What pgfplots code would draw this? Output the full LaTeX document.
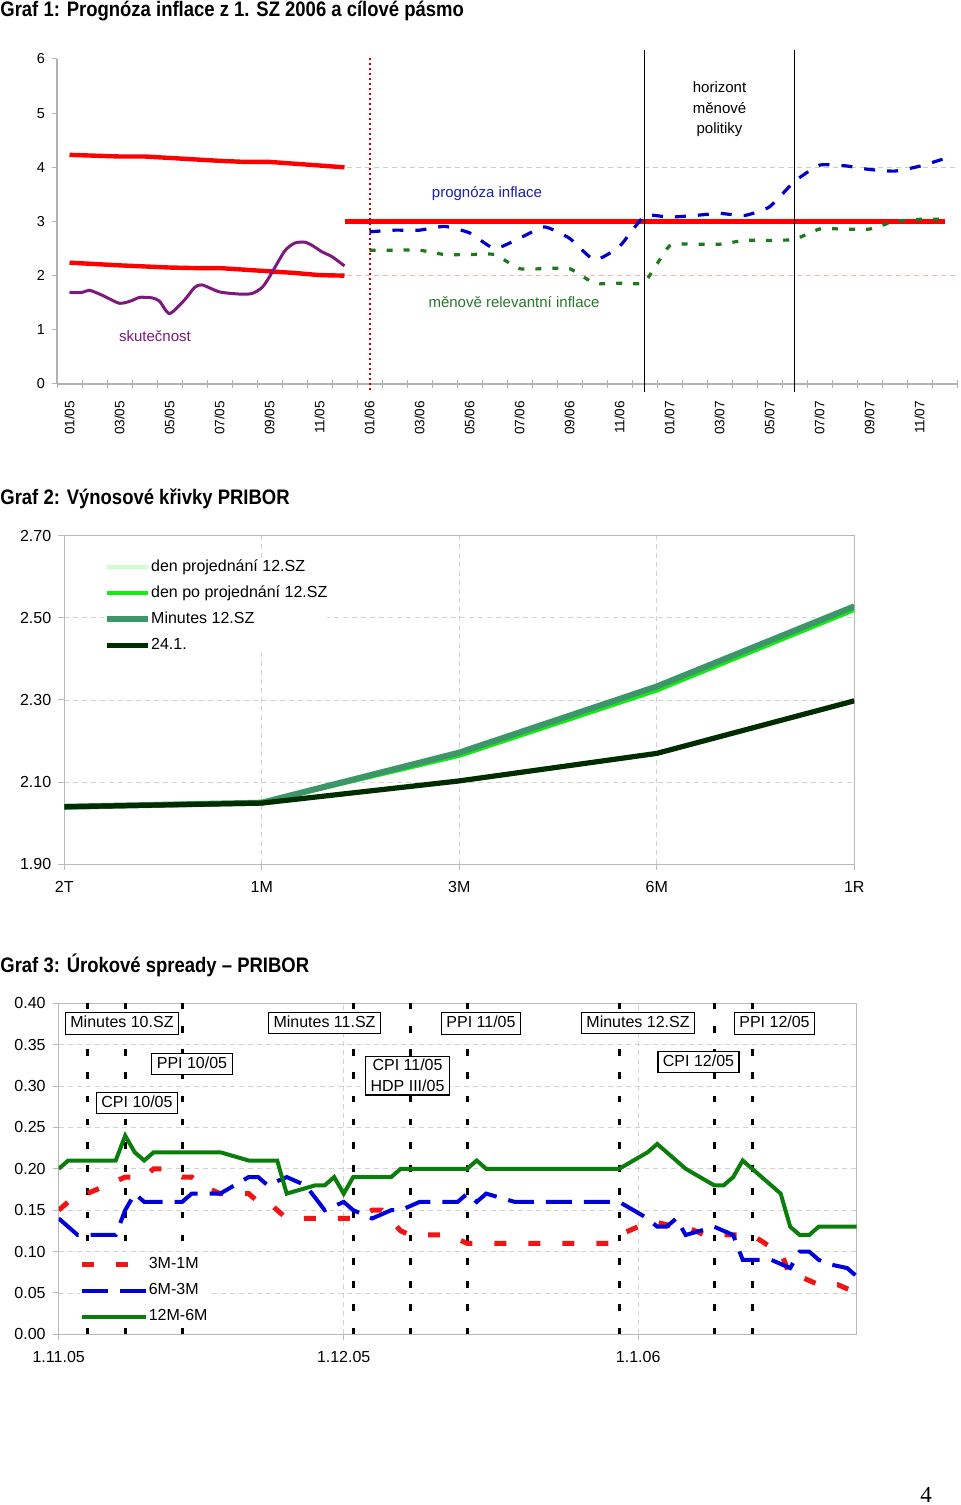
\documentclass[border=0pt]{standalone}
\usepackage{fontspec}
\setmainfont{Liberation Sans}
\newfontfamily\titlefont[FakeStretch=0.88]{Liberation Sans}
\newfontfamily\pagefont{Liberation Serif}
\usepackage{pgfplots}
\pgfplotsset{compat=1.18}
\definecolor{cRed}{RGB}{255,0,0}
\definecolor{cPurple}{RGB}{125,25,125}
\definecolor{cBlue}{RGB}{0,0,200}
\definecolor{cGreenD}{RGB}{30,120,30}
\definecolor{cBlueT}{RGB}{30,30,170}
\definecolor{cGreenT}{RGB}{40,120,40}
\definecolor{cLight}{RGB}{204,255,204}
\definecolor{cBright}{RGB}{20,235,20}
\definecolor{cMin}{RGB}{60,150,105}
\definecolor{cDark}{RGB}{0,45,0}
\definecolor{cG3}{RGB}{10,125,10}
\definecolor{cB3}{RGB}{0,0,220}
\definecolor{cR3}{RGB}{240,20,20}
\pgfplotsset{every axis/.append style={/pgf/number format/assume math mode=true}}
\begin{document}
\begin{tikzpicture}
\path[use as bounding box, fill=white] (0,0) rectangle (480pt,752.5pt);
% titles
\node[anchor=base west, inner sep=0pt, font=\titlefont\bfseries\fontsize{10.5}{12}\selectfont] at (0pt,744.2pt) {Graf 1: Prognóza inflace z 1. SZ 2006 a cílové pásmo};
\node[anchor=base west, inner sep=0pt, font=\titlefont\bfseries\fontsize{10.5}{12}\selectfont] at (0pt,500.3pt) {Graf 2: Výnosové křivky PRIBOR};
\node[anchor=base west, inner sep=0pt, font=\titlefont\bfseries\fontsize{10.5}{12}\selectfont] at (0pt,266.3pt) {Graf 3: Úrokové spready – PRIBOR};
\node[anchor=base, inner sep=0pt, font=\pagefont\fontsize{11.5}{13}\selectfont] at (463pt,1.5pt) {4};

%%%%%%%%%%%%%%%% GRAF 1
\begin{axis}[
  at={(28.5pt,560.5pt)}, anchor=south west, scale only axis,
  width=450pt, height=162.5pt,
  xmin=-0.5, xmax=35.5, ymin=0, ymax=6,
  clip=false,
  axis x line*=bottom, axis y line*=left,
  axis line style={draw=gray!60, line width=0.6pt, -},
  xtick={0,2,...,34},
  xticklabels={01/05,03/05,05/05,07/05,09/05,11/05,01/06,03/06,05/06,07/06,09/06,11/06,01/07,03/07,05/07,07/07,09/07,11/07},
  major x tick style={draw=none},
  minor xtick={-0.5,0.5,...,35.5},
  minor x tick style={draw=gray!60, line width=0.5pt},
  minor tick length=4pt,
  xtick align=center,
  ytick={0,1,2,3,4,5,6},
  ytick align=outside,
  major tick length=2.5pt,
  major y tick style={draw=gray!60, line width=0.5pt},
  xticklabel style={rotate=90, anchor=east, font=\fontsize{6.8}{8}\selectfont, inner sep=0pt},
  xticklabel shift=7pt,
  yticklabel style={font=\fontsize{7.2}{8}\selectfont},
]
% band grid lines
\addplot[gray!40, line width=0.5pt, dash pattern=on 2.5pt off 2pt] coordinates {(11.1,4)(35.5,4)};
\addplot[red!30, line width=0.5pt, dash pattern=on 2.5pt off 2pt] coordinates {(11.1,2)(35.5,2)};
% target band
\addplot[cRed, line width=2.2pt] coordinates {(0,4.23)(2,4.20)(3,4.20)(6,4.12)(7,4.10)(8,4.10)(11,4.0)};
\addplot[cRed, line width=2.2pt] coordinates {(0,2.24)(2,2.19)(4,2.15)(5,2.14)(6,2.14)(9,2.05)(10,2.01)(11,2.0)};
\addplot[cRed, line width=2.2pt] coordinates {(11,3.0)(35,3.0)};
% actual
\addplot[cPurple, line width=1.5pt, smooth, tension=0.4] coordinates {
(0,1.69)(0.5,1.69)(0.8,1.73)(1.3,1.64)(2,1.49)(2.5,1.54)(2.8,1.60)(3.3,1.59)(3.6,1.53)(4,1.30)
(4.6,1.55)(5.0,1.78)(5.3,1.83)(6,1.70)(6.8,1.66)(7.3,1.67)(7.7,1.78)(8,1.98)(8.6,2.45)(9,2.60)(9.4,2.62)(9.7,2.56)(10.1,2.44)(10.5,2.35)(11,2.18)};
% forecast
\addplot[cBlue, line width=1.6pt, dash pattern=on 5.5pt off 6pt, smooth, tension=0.3] coordinates {
(12,2.81)(13,2.84)(14,2.84)(15,2.91)(16,2.79)(17,2.50)(18,2.69)(19,2.90)(20,2.69)(21,2.29)(22,2.54)(23,3.10)
(24,3.08)(25,3.11)(26,3.15)(27,3.11)(28,3.27)(29,3.74)(30,4.04)(31,4.03)(32,3.96)(33,3.93)(34,4.02)(35,4.16)};
\addplot[cGreenD, line width=1.6pt, dash pattern=on 3pt off 5.5pt, smooth, tension=0.3] coordinates {
(12,2.47)(13,2.47)(14,2.47)(15,2.39)(16,2.39)(17,2.39)(18,2.13)(19,2.13)(20,2.13)(21,1.86)(22,1.86)(23,1.88)
(24,2.55)(25,2.58)(26,2.58)(27,2.65)(28,2.65)(29,2.67)(30,2.86)(31,2.86)(32,2.86)(33,3.0)(34,3.04)(35,3.04)};
% vertical lines
\addplot[red!75!black, line width=0.8pt, dash pattern=on 1pt off 1.5pt] coordinates {(12.02,-0.11)(12.02,6.07)};
\addplot[black, line width=0.9pt] coordinates {(23,-0.15)(23,6.17)};
\addplot[black, line width=0.9pt] coordinates {(29,-0.15)(29,6.17)};
% labels
\node[font=\fontsize{7.5}{9}\selectfont, text=cBlueT] at (axis cs:16.7,3.51) {prognóza inflace};
\node[font=\fontsize{7.5}{9}\selectfont, text=cGreenT] at (axis cs:17.78,1.51) {měnově relevantní inflace};
\node[font=\fontsize{7.5}{9}\selectfont, text=cPurple] at (axis cs:3.42,0.89) {skutečnost};
\node[align=center, font=\fontsize{7.5}{10.25}\selectfont] at (axis cs:26,5.07) {horizont\\měnové\\politiky};
\end{axis}

%%%%%%%%%%%%%%%% GRAF 2
\begin{axis}[
  at={(32.15pt,320.35pt)}, anchor=south west, scale only axis,
  width=395pt, height=164.3pt,
  xmin=0, xmax=4, ymin=1.9, ymax=2.7,
  xtick={0,1,2,3,4}, xticklabels={2T,1M,3M,6M,1R},
  ytick={1.9,2.1,2.3,2.5,2.7},
  scaled y ticks=false,
  yticklabel style={/pgf/number format/fixed, /pgf/number format/fixed zerofill, /pgf/number format/precision=2},
  grid=major, major grid style={draw=gray!35, line width=0.4pt, dash pattern=on 2.5pt off 2pt},
  axis line style={draw=gray!55, line width=0.5pt},
  tick style={draw=gray!55, line width=0.5pt},
  tick align=outside, major tick length=3pt,
  xtick pos=bottom, ytick pos=left,
  tick label style={font=\fontsize{8}{9.6}\selectfont},
  xticklabel shift=2pt,
  legend cell align=left,
  legend style={at={(axis description cs:0.050,0.929)}, anchor=north west, draw=none, fill=white,
     inner sep=0pt, font=\fontsize{8}{9.6}\selectfont, row sep=5pt, column sep=0pt,
     nodes={inner sep=0pt, text height=5.9pt, text depth=2.1pt}},
  legend image code/.code={\draw[#1] (0pt,0pt) -- (20.5pt,0pt);},
]
\addplot[cLight, line width=2pt] coordinates {(0,2.04)(1,2.05)(2,2.17)(3,2.33)(4,2.525)};
\addplot[cBright, line width=2pt] coordinates {(0,2.04)(1,2.05)(2,2.164)(3,2.323)(4,2.519)};
\addplot[cMin, line width=3pt] coordinates {(0,2.04)(1,2.05)(2,2.172)(3,2.333)(4,2.528)};
\addplot[cDark, line width=2.6pt] coordinates {(0,2.04)(1,2.049)(2,2.103)(3,2.17)(4,2.298)};
\legend{den projednání 12.SZ, den po projednání 12.SZ, Minutes 12.SZ, 24.1.}
\end{axis}

%%%%%%%%%%%%%%%% GRAF 3
\begin{axis}[
  at={(29.35pt,85.35pt)}, anchor=south west, scale only axis,
  width=399pt, height=165.5pt,
  xmin=0, xmax=84, ymin=0, ymax=0.4,
  xtick={0,30,61}, xticklabels={1.11.05,1.12.05,1.1.06},
  ytick={0,0.05,0.1,0.15,0.2,0.25,0.3,0.35,0.4},
  scaled y ticks=false,
  yticklabel style={/pgf/number format/fixed, /pgf/number format/fixed zerofill, /pgf/number format/precision=2},
  grid=major, major grid style={draw=gray!35, line width=0.4pt, dash pattern=on 2.5pt off 2pt},
  axis line style={draw=gray!55, line width=0.5pt},
  tick style={draw=gray!55, line width=0.5pt},
  tick align=outside, major tick length=3pt,
  xtick pos=bottom, ytick pos=left,
  tick label style={font=\fontsize{8}{9.6}\selectfont},
  xticklabel shift=2pt,
  legend cell align=left,
  legend style={at={(axis description cs:0.026,0.236)}, anchor=north west, draw=none, fill=white,
     inner sep=0pt, font=\fontsize{8}{9.6}\selectfont, row sep=5pt, column sep=0pt,
     nodes={inner sep=0pt, text height=5.9pt, text depth=2.1pt}},
  legend image code/.code={\draw[#1] (0pt,0pt) -- (32pt,0pt);},
]
% event lines
\pgfplotsset{evline/.style={black, line width=1.4pt, dash pattern=on 3.3pt off 8.3pt, forget plot}}
\addplot[evline] coordinates {(3,0)(3,0.4)};
\addplot[evline] coordinates {(7,0)(7,0.4)};
\addplot[evline] coordinates {(13,0)(13,0.4)};
\addplot[evline] coordinates {(31,0)(31,0.4)};
\addplot[evline] coordinates {(37,0)(37,0.4)};
\addplot[evline] coordinates {(43,0)(43,0.4)};
\addplot[evline] coordinates {(59,0)(59,0.4)};
\addplot[evline] coordinates {(69,0)(69,0.4)};
\addplot[evline] coordinates {(73,0)(73,0.4)};
% 3M-1M
\addplot[cR3, line width=2.5pt, dash pattern=on 6pt off 11pt] coordinates {
(0,0.15)(1,0.16)(3,0.17)(4,0.175)(5,0.18)(7,0.19)(8,0.19)(9,0.19)(10,0.20)(11,0.20)(13,0.19)(14,0.19)
(16,0.175)(17,0.17)(20,0.17)(21,0.16)(22,0.16)(23,0.15)(24,0.14)(27,0.14)(31,0.14)(33,0.15)(34,0.15)
(36,0.125)(37,0.12)(41,0.12)(43,0.11)(58,0.11)(59,0.12)(62,0.135)(63,0.135)(65,0.13)(66,0.13)(68,0.12)
(73,0.12)(75,0.105)(76,0.10)(77,0.07)(78,0.07)(80,0.06)(82,0.06)(84,0.05)};
% 6M-3M
\addplot[cB3, line width=2pt, dash pattern=on 13pt off 6pt] coordinates {
(0,0.14)(2,0.12)(6,0.12)(7,0.15)(8,0.17)(9,0.16)(13,0.16)(14,0.17)(17,0.17)(20,0.19)(21,0.19)(22,0.18)
(24,0.19)(25,0.185)(26,0.18)(28,0.15)(29,0.155)(30,0.16)(31,0.15)(33,0.14)(35,0.15)(36,0.15)(37,0.155)
(38,0.16)(42,0.16)(43,0.17)(44,0.16)(45,0.17)(48,0.16)(59,0.16)(62,0.14)(63,0.13)(64,0.13)(65,0.14)
(66,0.12)(69,0.13)(71,0.12)(72,0.09)(73,0.09)(75,0.09)(77,0.08)(78,0.10)(79,0.10)(80,0.09)(81,0.085)
(83,0.08)(84,0.07)};
% 12M-6M
\addplot[cG3, line width=2pt] coordinates {
(0,0.20)(1,0.21)(6,0.21)(7,0.24)(8,0.22)(9,0.21)(10,0.22)(17,0.22)(20,0.21)(23,0.21)(24,0.17)(27,0.18)
(28,0.18)(29,0.19)(30,0.17)(31,0.19)(35,0.19)(36,0.20)(43,0.20)(44,0.21)(45,0.20)(59,0.20)(62,0.22)
(63,0.23)(66,0.20)(69,0.18)(70,0.18)(71,0.19)(72,0.21)(73,0.20)(76,0.17)(77,0.13)(78,0.12)(79,0.12)
(80,0.13)(84,0.13)};
\legend{3M-1M, 6M-3M, 12M-6M}
% event boxes
\tikzset{evbox/.style={draw=black, fill=white, line width=0.6pt, inner xsep=2.5pt, inner ysep=1.5pt,
  text height=6pt, text depth=1.7pt, font=\fontsize{8}{9.6}\selectfont}}
\node[evbox] at (axis cs:6.66,0.3756) {Minutes 10.SZ};
\node[evbox] at (axis cs:14.03,0.3266) {PPI 10/05};
\node[evbox] at (axis cs:8.24,0.2794) {CPI 10/05};
\node[evbox] at (axis cs:27.98,0.3762) {Minutes 11.SZ};
\node[evbox, align=center, text height=, text depth=, font=\fontsize{8}{10.5}\selectfont] at (axis cs:36.72,0.3127) {CPI 11/05\\HDP III/05};
\node[evbox] at (axis cs:44.45,0.3756) {PPI 11/05};
\node[evbox] at (axis cs:60.98,0.3762) {Minutes 12.SZ};
\node[evbox] at (axis cs:67.35,0.329) {CPI 12/05};
\node[evbox] at (axis cs:75.35,0.3756) {PPI 12/05};
\end{axis}
\end{tikzpicture}
\end{document}
